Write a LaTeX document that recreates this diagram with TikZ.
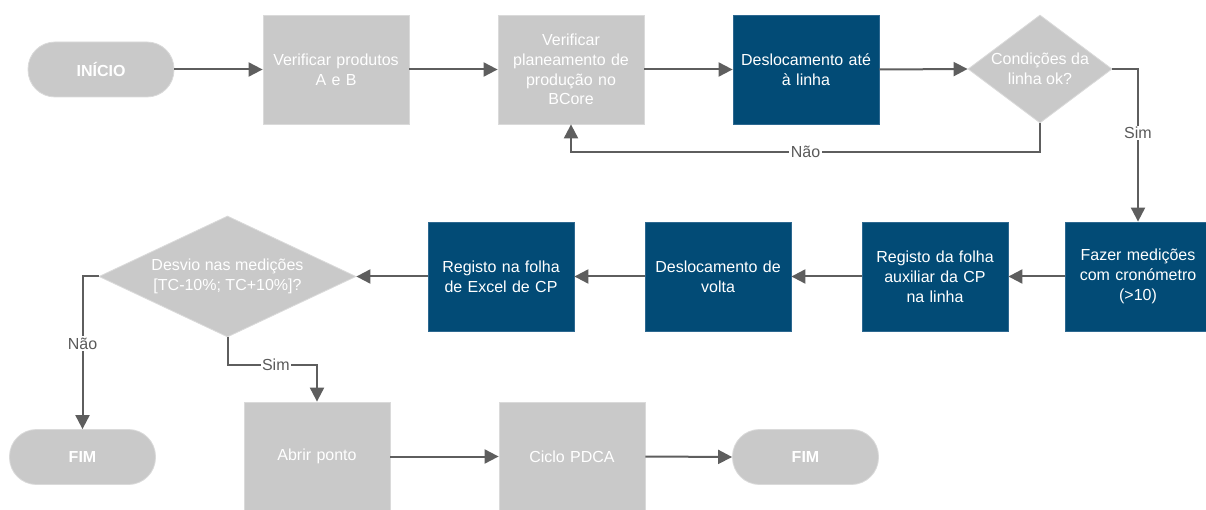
\documentclass[tikz,border=0pt]{standalone}
\usepackage{fontspec}
\setmainfont{Liberation Sans}
\usetikzlibrary{arrows.meta,shapes.geometric}
\definecolor{boxgray}{HTML}{C9C9C9}
\definecolor{edgegray}{HTML}{DADADA}
\definecolor{navy}{HTML}{024B76}
\definecolor{navyedge}{HTML}{2D6890}
\definecolor{linegray}{HTML}{5E5E5E}
\definecolor{lblgray}{HTML}{5A5A5A}
\begin{document}
\begin{tikzpicture}[x=1pt,y=-1pt,
  every node/.style={font=\fontsize{16}{19.8}\selectfont, text=white, align=center, inner sep=0pt},
  graybox/.style={rectangle, fill=boxgray, draw=edgegray, line width=0.8pt, minimum width=146pt, minimum height=109pt, text width=138pt},
  bluebox/.style={rectangle, fill=navy, draw=navyedge, line width=0.8pt, minimum width=146pt, minimum height=109pt, text width=138pt},
  term/.style={rectangle, rounded corners=27pt, fill=boxgray, draw=edgegray, line width=0.8pt, minimum width=146pt, minimum height=55pt, font=\fontsize{16}{19.8}\selectfont\bfseries},
  decision/.style={diamond, fill=boxgray, draw=edgegray, line width=0.8pt},
  arr/.style={draw=linegray, line width=2pt, -{Triangle[length=14pt,width=14pt]}},
  lbl/.style={fill=white, text=lblgray, inner sep=1.5pt, font=\fontsize{16}{19}\selectfont}
]
\useasboundingbox (0,0) rectangle (1206,510);
\clip (0,0) rectangle (1206,510);

% first row
\node[term] (start) at (101,69.5) {INÍCIO};
\node[graybox] (vprod) at (336,69.5) {Verificar produtos\\A e B};
\node[graybox] (vplan) at (571,69.5) {Verificar\\planeamento de\\produção no\\BCore};
\node[bluebox] (desl) at (806,69.5) {Deslocamento até\\à linha};
\node[decision, minimum width=144pt, minimum height=108pt] (cond) at (1040,69) {};
\node (condtxt) at (1040,69) {Condições da\\linha ok?};

% second row
\node[bluebox] (fazer) at (1138,276.5) {Fazer medições\\com cronómetro\\(>10)};
\node[bluebox] (aux) at (935,276.5) {Registo da folha\\auxiliar da CP\\na linha};
\node[bluebox] (volta) at (718,276.5) {Deslocamento de\\volta};
\node[bluebox] (excel) at (501,276.5) {Registo na folha\\de Excel de CP};
\node[decision, minimum width=257pt, minimum height=121pt] (desvio) at (227.5,276.5) {};
\node (desviotxt) at (227.5,276.5) {Desvio nas medições\\{[TC-10\%; TC+10\%]?}};

% third row
\node[term] (fim1) at (82.5,457) {FIM};
\node[graybox] (abrir) at (317,456.5) {Abrir ponto};
\node[graybox] (pdca) at (572,456.5) {Ciclo PDCA};
\node[term] (fim2) at (805.5,457) {FIM};

% connectors
\draw[arr] (start.east) -- (vprod.west);
\draw[arr] (vprod.east) -- (vplan.west);
\draw[arr] (vplan.east) -- (desl.west);
\draw[arr] (desl.east) -- (cond.west);
\draw[arr] (cond.east) -| node[lbl, pos=0.71] {Sim} (fazer.north);
\coordinate (nao1) at (1040,152);
\draw[arr] (cond.south) -- (nao1) -| node[lbl, pos=0.25] {Não} (vplan.south);
\draw[arr] (fazer.west) -- (aux.east);
\draw[arr] (aux.west) -- (volta.east);
\draw[arr] (volta.west) -- (excel.east);
\draw[arr] (excel.west) -- (desvio.east);
\draw[arr] (desvio.west) -| node[lbl, pos=0.72] {Não} (fim1.north);
\coordinate (sim2) at (317,365);
\draw[arr] (desvio.south) |- node[lbl, pos=0.77] {Sim} (sim2) -- (abrir.north);
\draw[arr] (abrir.east) -- (pdca.west);
\draw[arr] (pdca.east) -- (fim2.west);
\end{tikzpicture}
\end{document}
